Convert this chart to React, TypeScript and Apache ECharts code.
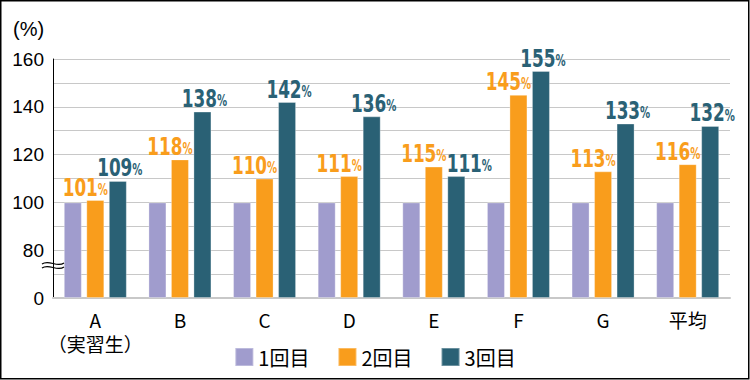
import React, { useEffect, useRef } from "react";
import * as echarts from "echarts";

const categories = ["A\n（実習生）", "B", "C", "D", "E", "F", "G", "平均"];
const seriesNames = ["1回目", "2回目", "3回目"];
const round1 = [100, 100, 100, 100, 100, 100, 100, 100];
const round2 = [101, 118, 110, 111, 115, 145, 113, 116];
const round3 = [109, 138, 142, 136, 111, 155, 133, 132];
const colors = ["#a09ccd", "#f99d1c", "#2a6175"];
const tickValues = [0, 80, 100, 120, 140, 160];

// Broken axis: 0..80 squeezed to one step, linear above 80
const toAxis = (v: number) => (v >= 80 ? v - 60 : (v * 20) / 80);
const fromAxis = (t: number) => (t >= 20 ? t + 60 : (t * 80) / 20);

const BAR_W = 18;
const BAR_GAP = 4.5;
const LABEL_FONT = "'DejaVu Sans Condensed', 'DejaVu Sans', sans-serif";

export default function App() {
  const ref = useRef<HTMLDivElement>(null);
  useEffect(() => {
    if (!ref.current) return;
    const chart = echarts.init(ref.current, null, { renderer: "svg" });
    const all = [round1, round2, round3];
    const barSeries = all.map((arr, i) => ({
      name: seriesNames[i],
      type: "bar",
      barWidth: BAR_W,
      barGap: "25%",
      data: arr.map(toAxis),
      itemStyle: { color: colors[i], borderColor: "rgba(255,255,255,0.3)", borderWidth: 1 },
    }));

    // value labels (series 2 and 3), drawn with a narrowed bold font
    const makeLabelSeries = (arr: number[], seriesIdx: number, color: string, dxList: number[]) => ({
      type: "custom",
      name: "label" + seriesIdx,
      silent: true,
      clip: false,
      z: 10,
      encode: { x: 0, y: 1 },
      data: arr.map((v, i) => [i, toAxis(v), v, dxList[i]]),
      renderItem: (params: any, api: any) => {
        const pt = api.coord([api.value(0), api.value(1)]);
        const offset = (seriesIdx - 1) * (BAR_W + BAR_GAP);
        const dx = api.value(3);
        return {
          type: "text",
          x: pt[0] + offset + dx,
          y: pt[1] - 1,
          scaleX: 0.75,
          style: {
            text: `{n|${api.value(2)}}{p|%}`,
            align: "center",
            verticalAlign: "bottom",
            rich: {
              n: { fontFamily: LABEL_FONT, fontWeight: "bold", fontSize: 25, fill: color, color },
              p: {
                fontFamily: LABEL_FONT,
                fontWeight: "bold",
                fontSize: 15,
                fill: color,
                color,
                verticalAlign: "bottom",
                padding: [0, 0, 2, 0],
              },
            },
          },
        };
      },
    });
    const dx2 = [-10, -10, -10, -10, -10, -10, -10, -10];
    const dx3 = [2, 2, 2, 2, 13, 2, 2, 2];

    chart.setOption({
      animation: false,
      grid: { left: 53, right: 20, top: 59, bottom: 82 },
      legend: {
        bottom: 8,
        left: "center",
        itemWidth: 18,
        itemHeight: 18,
        itemGap: 28,
        icon: "rect",
        textStyle: { fontSize: 20, color: "#000", fontFamily: "'Noto Sans CJK JP', sans-serif" },
        data: seriesNames,
      },
      xAxis: {
        type: "category",
        data: categories,
        axisLine: { show: true, lineStyle: { color: "#c8c8c8", width: 2 } },
        axisTick: { show: false },
        axisLabel: {
          interval: 0,
          color: "#000",
          fontSize: 19,
          lineHeight: 24,
          margin: 9,
          fontFamily: "'Noto Sans CJK JP', sans-serif",
        },
      },
      yAxis: {
        type: "value",
        min: 0,
        max: 100,
        interval: 10,
        axisLine: { show: true, lineStyle: { color: "#000", width: 1 } },
        axisTick: { show: false },
        splitLine: { lineStyle: { color: "#c8c8c8", width: 1 } },
        axisLabel: {
          color: "#000",
          fontSize: 19,
          margin: 9,
          fontFamily: "'Liberation Sans', Arial, sans-serif",
          formatter: (t: number) => {
            const v = Math.round(fromAxis(t));
            return tickValues.includes(v) && t % 20 === 0 ? String(v) : "";
          },
        },
      },
      graphic: [
        {
          type: "rect",
          shape: { x: 0.75, y: 0.75, width: 748, height: 378 },
          style: { fill: "none", stroke: "#000", lineWidth: 1.5 },
          silent: true,
        },
        {
          type: "text",
          left: 13,
          top: 19,
          style: { text: "(%)", fontSize: 20, fill: "#000", fontFamily: "'Liberation Sans', Arial, sans-serif" },
        },
        {
          type: "bezierCurve",
          shape: { x1: 42, y1: 264, cpx1: 49, cpy1: 259, cpx2: 57, cpy2: 268, x2: 64, y2: 263 },
          style: { stroke: "#000", lineWidth: 1.2, fill: "none" },
          z: 101,
        },
        {
          type: "bezierCurve",
          shape: { x1: 42, y1: 268, cpx1: 49, cpy1: 263, cpx2: 57, cpy2: 272, x2: 64, y2: 267 },
          style: { stroke: "#000", lineWidth: 1.2, fill: "none" },
          z: 101,
        },
      ],
      series: [
        ...barSeries,
        makeLabelSeries(round2, 1, colors[1], dx2),
        makeLabelSeries(round3, 2, colors[2], dx3),
      ],
    });
    return () => chart.dispose();
  }, []);
  return (
    <div
      ref={ref}
      style={{ position: "absolute", left: 0, top: 0, width: 750, height: 380, background: "#fff" }}
    />
  );
}
